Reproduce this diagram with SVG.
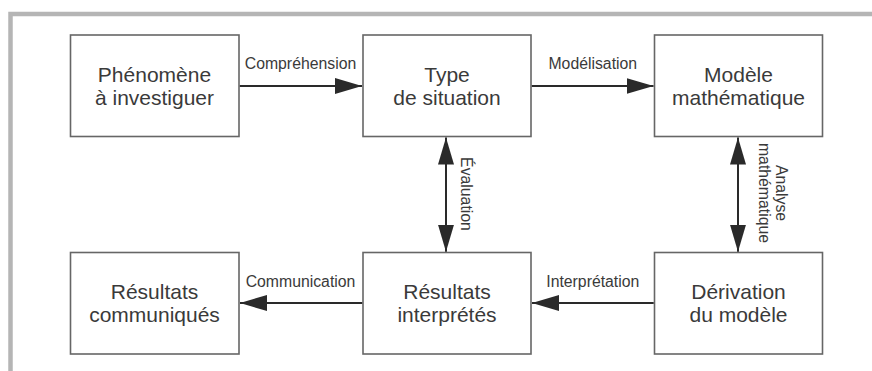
<svg xmlns="http://www.w3.org/2000/svg" width="872" height="371" viewBox="0 0 872 371">
  <style>
    .box { fill: #ffffff; stroke: #666666; stroke-width: 1.6; }
    .nt { font-family: "Liberation Sans", Arial, sans-serif; font-size: 21px; fill: #3a3a3a; text-anchor: middle; }
    .lt { font-family: "Liberation Sans", Arial, sans-serif; font-size: 15.8px; fill: #3a3a3a; text-anchor: middle; }
    .conn { stroke: #2a2a2a; stroke-width: 2; fill: none; }
  </style>
  <defs>
    <marker id="ah" markerUnits="userSpaceOnUse" markerWidth="28" markerHeight="16" refX="27" refY="8" orient="auto-start-reverse">
      <path d="M0,0 L27,8 L0,16 Z" fill="#2a2a2a"/>
    </marker>
  </defs>
  <rect x="0" y="0" width="872" height="371" fill="#ffffff"/>
  <path d="M10.5,371 V14 H872" fill="none" stroke="#b5b5b5" stroke-width="4.5"/>

  <g id="n-phenomene">
    <rect class="box" x="70.5" y="35" width="168.5" height="101.5"/>
    <text class="nt" x="154.5" y="81.5">Phénomène</text>
    <text class="nt" x="154.5" y="104.5">à investiguer</text>
  </g>
  <g id="n-type">
    <rect class="box" x="363" y="35" width="168" height="101.5"/>
    <text class="nt" x="447" y="81.5">Type</text>
    <text class="nt" x="447" y="104.5">de situation</text>
  </g>
  <g id="n-modele">
    <rect class="box" x="654.5" y="35" width="168" height="101.5"/>
    <text class="nt" x="738.5" y="81.5">Modèle</text>
    <text class="nt" x="738.5" y="104.5">mathématique</text>
  </g>
  <g id="n-communiques">
    <rect class="box" x="70.5" y="252.5" width="168.5" height="101.5"/>
    <text class="nt" x="154.5" y="299">Résultats</text>
    <text class="nt" x="154.5" y="322">communiqués</text>
  </g>
  <g id="n-interpretes">
    <rect class="box" x="363" y="252.5" width="168" height="101.5"/>
    <text class="nt" x="447" y="299">Résultats</text>
    <text class="nt" x="447" y="322">interprétés</text>
  </g>
  <g id="n-derivation">
    <rect class="box" x="654.5" y="252.5" width="168" height="101.5"/>
    <text class="nt" x="738.5" y="299">Dérivation</text>
    <text class="nt" x="738.5" y="322">du modèle</text>
  </g>

  <g id="connectors">
    <line class="conn" x1="239.8" y1="86" x2="362" y2="86" marker-end="url(#ah)"/>
    <text class="lt" x="300.5" y="68.5">Compréhension</text>
    <line class="conn" x1="531.8" y1="86" x2="653.5" y2="86" marker-end="url(#ah)"/>
    <text class="lt" x="592.8" y="69">Modélisation</text>
    <line class="conn" x1="653.7" y1="303" x2="532" y2="303" marker-end="url(#ah)"/>
    <text class="lt" x="592.8" y="286.5">Interprétation</text>
    <line class="conn" x1="362.2" y1="303" x2="240" y2="303" marker-end="url(#ah)"/>
    <text class="lt" x="300.5" y="286.5">Communication</text>
    <line class="conn" x1="446" y1="137.5" x2="446" y2="251.7" marker-start="url(#ah)" marker-end="url(#ah)"/>
    <text class="lt" transform="translate(460.5,194) rotate(90)">Évaluation</text>
    <line class="conn" x1="738" y1="137.5" x2="738" y2="251.7" marker-start="url(#ah)" marker-end="url(#ah)"/>
    <text class="lt" transform="translate(775.5,193) rotate(90)">Analyse</text>
    <text class="lt" transform="translate(759,193) rotate(90)">mathématique</text>
  </g>
</svg>
